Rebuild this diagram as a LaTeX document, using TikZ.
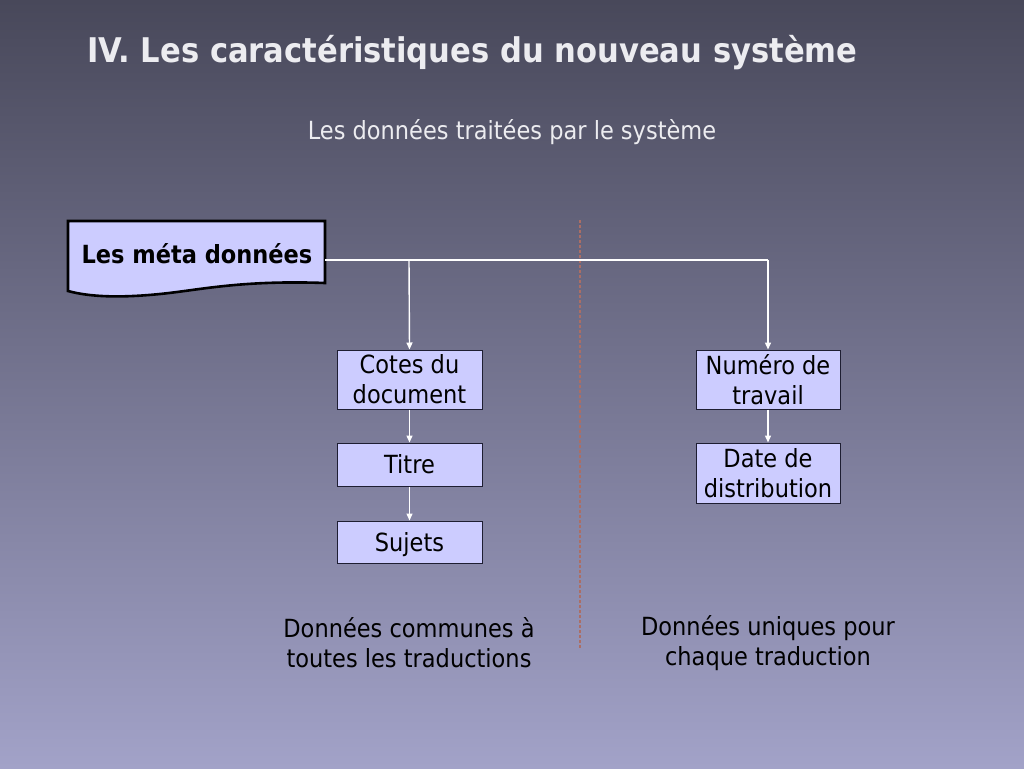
\documentclass[tikz,border=0pt]{standalone}
\usepackage{fontspec}
\setmainfont{DejaVu Sans}[FakeStretch=0.9]
\usetikzlibrary{arrows.meta}
\definecolor{bgtop}{RGB}{72,72,90}
\definecolor{bgbot}{RGB}{162,162,200}
\definecolor{boxfill}{RGB}{204,204,255}
\definecolor{boxline}{RGB}{30,30,50}
\definecolor{sepline}{RGB}{172,110,100}
\definecolor{lighttext}{RGB}{236,236,240}
\tikzset{
  databox/.style={draw=boxline, line width=1pt, fill=boxfill, align=center,
    font=\fontsize{25}{30}\selectfont, inner sep=0pt, minimum width=145pt},
  oneline/.style={text height=21pt, text depth=3pt},
  conn/.style={draw=white, line width=1.4pt, -{Triangle[width=6pt,length=7pt]}},
  plainconn/.style={draw=white, line width=1.4pt},
  caption/.style={text=black, align=center, font=\fontsize{25}{30}\selectfont}
}
\begin{document}
\begin{tikzpicture}[x=1pt,y=-1pt]
\shade[top color=bgtop, bottom color=bgbot] (0,0) rectangle (1024,768);
\useasboundingbox (0,0) rectangle (1024,768);

\node[anchor=west, text=lighttext, font=\bfseries\fontsize{34}{38}\selectfont] (title) at (84,53) {IV. Les caractéristiques du nouveau système};
\node[text=lighttext, font=\fontsize{25}{30}\selectfont] (sub) at (512,132) {Les données traitées par le système};

% document shape
\draw[line width=2.6pt, fill=boxfill] (68,221) -- (325,221) -- (325,283)
  .. controls (240,280) and (200,290) .. (160,294)
  .. controls (120,298) and (90,297) .. (68,291) -- cycle;
\node[font=\bfseries\fontsize{25}{30}\selectfont] (meta) at (197,254) {Les méta données};
\coordinate (metaR) at (325,260);
\coordinate (jL) at (409,260);
\coordinate (jR) at (768,260);

% separator
\draw[sepline, line width=1.2pt, dash pattern=on 3pt off 2pt] (580,220) coordinate (sepT) -- (580,648) coordinate (sepB);

% boxes
\node[databox, minimum height=59pt] (cotes) at (409.5,379.5) {Cotes du\\document};
\node[databox, oneline, minimum height=43pt] (titre) at (409.5,464.5) {Titre};
\node[databox, oneline, minimum height=42pt] (sujets) at (409.5,542) {Sujets};
\node[databox, minimum height=59pt, minimum width=144pt] (numero) at (768,379.5) {Numéro de\\travail};
\node[databox, minimum height=60pt, minimum width=144pt] (date) at (768,473) {Date de\\distribution};

% connectors
\draw[plainconn] (metaR) -- (jR);
\draw[conn] (jL) -- (cotes.north);
\draw[conn] (jR) -- (numero.north);
\draw[conn] (cotes.south) -- (titre.north);
\draw[conn] (titre.south) -- (sujets.north);
\draw[conn] (numero.south) -- (date.north);

% captions
\node[caption] (capL) at (409,643) {Données communes à\\toutes les traductions};
\node[caption] (capR) at (768,643) {Données uniques pour\\chaque traduction};
\end{tikzpicture}
\end{document}
